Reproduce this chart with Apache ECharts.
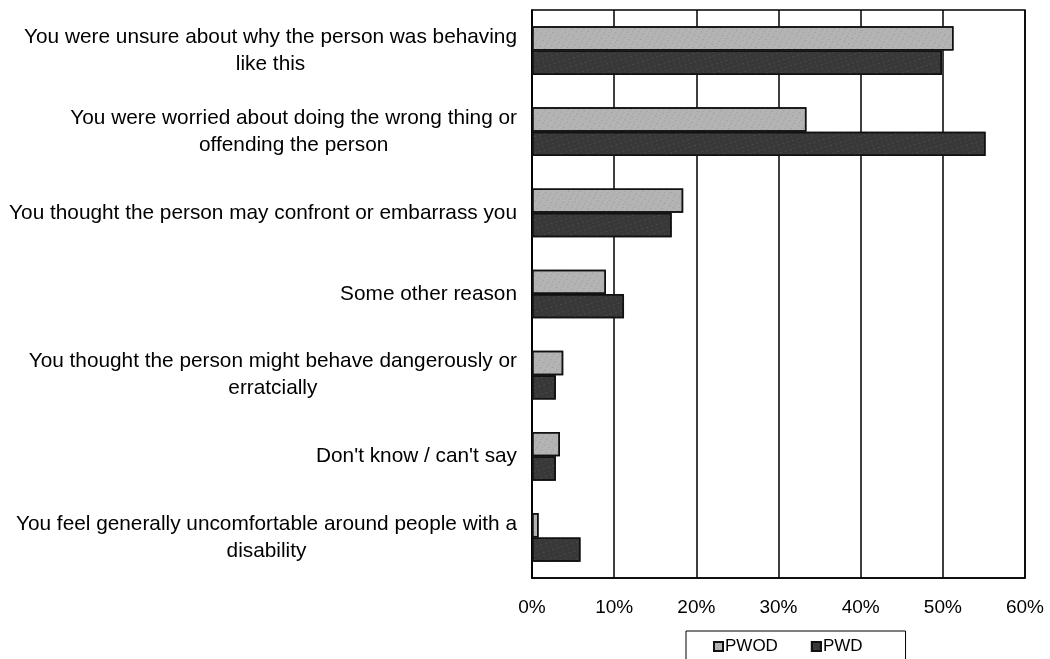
<!DOCTYPE html>
<html>
<head>
<meta charset="utf-8">
<script src="https://cdn.jsdelivr.net/npm/echarts@6/dist/echarts.min.js"></script>
<style>
  html, body { margin: 0; padding: 0; background: #fff; }
  #chart { width: 1050px; height: 659px; }
</style>
</head>
<body>
<div id="chart"></div>
<script>
// Reasons, listed top to bottom
const categories = [
  'You were unsure about why the person was behaving\nlike this',
  'You were worried about doing the wrong thing or\noffending the person',
  'You thought the person may confront or embarrass you',
  'Some other reason',
  'You thought the person might behave dangerously or\nerratcially',
  "Don't know / can't say",
  'You feel generally uncomfortable around people with a\ndisability'
];
// Percentages per group, same order as categories
const pwod = [51.3, 33.4, 18.4, 9.0, 3.8, 3.4, 0.8];
const pwd = [49.9, 55.2, 17.0, 11.2, 2.9, 2.9, 5.9];
const xTicks = [0, 10, 20, 30, 40, 50, 60];

const FONT = '"Liberation Sans", Arial, sans-serif';

const chart = echarts.init(document.getElementById('chart'));

const barBase = {
  type: 'bar',
  barGap: '0%',
  barCategoryGap: '40%',
  animation: false
};

chart.setOption({
  backgroundColor: '#ffffff',
  textStyle: { fontFamily: FONT, color: '#000' },
  grid: { left: 532, right: 25, top: 10, bottom: 81, containLabel: false,
          show: true, borderColor: '#000', borderWidth: 1.5 },
  legend: {
    data: ['PWOD', 'PWD'],
    left: 686, bottom: -6,
    itemGap: 33, itemWidth: 9, itemHeight: 9,
    padding: [7, 43, 10, 27],
    borderColor: '#000', borderWidth: 1,
    textStyle: { fontFamily: FONT, fontSize: 17, color: '#000', padding: [0, 0, 0, -3] },
    icon: 'rect'
  },
  xAxis: {
    type: 'value',
    min: 0, max: 60, interval: 10,
    axisLine: { show: true, lineStyle: { color: '#000', width: 1.5 } },
    axisTick: { show: false },
    splitLine: { show: true, lineStyle: { color: '#000', width: 1.5 } },
    axisLabel: {
      fontFamily: FONT, fontSize: 19, color: '#000', margin: 20,
      formatter: v => xTicks.includes(v) ? v + '%' : ''
    }
  },
  yAxis: {
    type: 'category',
    inverse: true,
    data: categories,
    axisLine: { show: true, lineStyle: { color: '#000', width: 1.5 } },
    axisTick: { show: false },
    axisLabel: {
      margin: 15,
      fontFamily: FONT, fontSize: 20.8, color: '#000', lineHeight: 27,
      formatter: v => v.split('\n').map(l => '{c|' + l + '}').join('\n'),
      rich: { c: { align: 'center', fontFamily: FONT, fontSize: 20.8, color: '#000', lineHeight: 27 } }
    }
  },
  series: [
    Object.assign({}, barBase, {
      name: 'PWOD', data: pwod,
      itemStyle: {
        color: '#b4b4b4', borderColor: '#111', borderWidth: 1.5,
        decal: { symbol: 'rect', symbolSize: 0.5, color: 'rgba(50,50,50,0.6)', dashArrayX: [[2, 3], [1, 4]], dashArrayY: [1, 2], rotation: 0.5 }
      }
    }),
    Object.assign({}, barBase, {
      name: 'PWD', data: pwd,
      itemStyle: {
        color: '#383838', borderColor: '#111', borderWidth: 1.5,
        decal: { symbol: 'rect', symbolSize: 0.5, color: 'rgba(210,210,210,0.5)', dashArrayX: [[1, 4], [2, 3]], dashArrayY: [1, 3], rotation: -0.3 }
      }
    })
  ]
});
</script>
</body>
</html>
